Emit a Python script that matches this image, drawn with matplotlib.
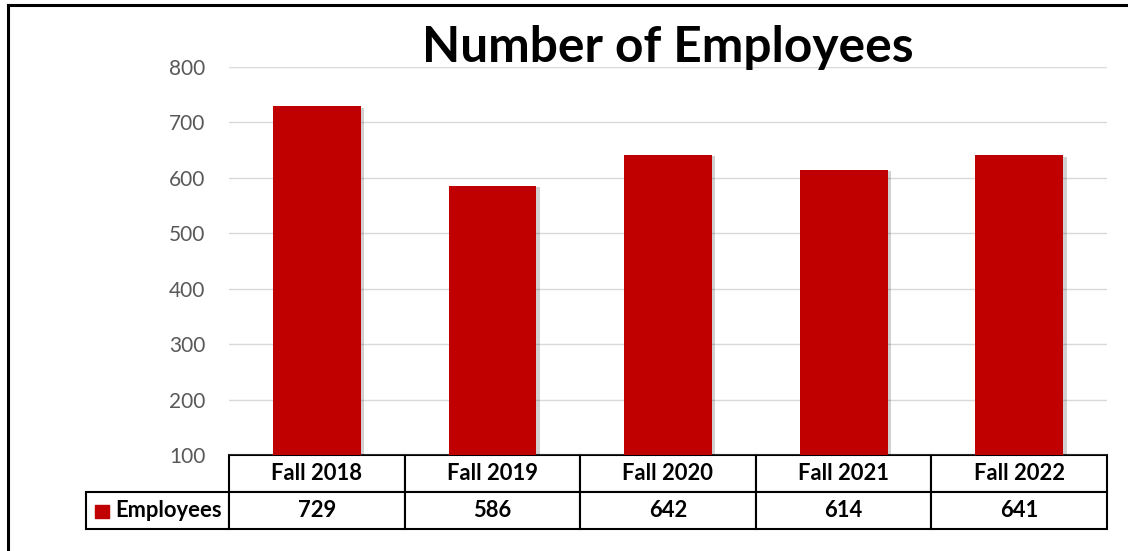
import matplotlib.pyplot as plt
from matplotlib.lines import Line2D
from matplotlib.patches import Rectangle
from matplotlib.table import Table
import matplotlib.patheffects as pe

# data
categories = ['Fall 2018', 'Fall 2019', 'Fall 2020', 'Fall 2021', 'Fall 2022']
employees = [729, 586, 642, 614, 641]
series_name = 'Employees'

bar_color = '#C00000'
font = 'Lato'

fig = plt.figure(figsize=(11.28, 5.51), dpi=100)
ax = fig.add_axes([229 / 1128, 1 - 455 / 551, 878 / 1128, 388 / 551])

x = list(range(len(categories)))
bars = ax.bar(x, employees, width=0.5, color=bar_color, zorder=3)
for b in bars:
    b.set_path_effects([pe.SimplePatchShadow(offset=(2.5, -1), shadow_rgbFace='#000000', alpha=0.18),
                        pe.Normal()])

ax.set_xlim(-0.5, len(categories) - 0.5)
ax.set_ylim(100, 800)
ax.set_yticks(range(100, 801, 100))
ax.set_xticks([])
ax.grid(axis='y', color='#D9D9D9', linewidth=1.0, zorder=0)
for s in ax.spines.values():
    s.set_visible(False)
ax.tick_params(axis='y', length=0, pad=17, labelsize=15, labelcolor='#595959')
for lbl in ax.get_yticklabels():
    lbl.set_fontfamily(font)

# data table below the bars (bbox covers the data grid, row label sits left of it)
lw_frac = 143 / 878
col_w = 1 / len(categories)
tbl = Table(ax, bbox=[0, -74 / 388, 1, 74 / 388])
for j, cat in enumerate(categories):
    tbl.add_cell(0, j, width=col_w, height=0.5, text=cat, loc='center')
    tbl.add_cell(1, j, width=col_w, height=0.5, text=str(employees[j]), loc='center')
tbl.add_cell(1, -1, width=lw_frac, height=0.5, text=series_name, loc='right')
tbl.auto_set_font_size(False)
tbl.set_fontsize(15.8)
for (r, c), cell in tbl.get_celld().items():
    cell.set_edgecolor('black')
    cell.set_linewidth(1.5)
    cell.get_text().set_fontweight('bold')
    cell.get_text().set_fontfamily(font)
    if c == -1:
        cell.PAD = 0.05
ax.add_table(tbl)

# legend key in the row label
ax.add_patch(Rectangle((-134 / 878, -63 / 388), 14 / 878, 13 / 388,
                       transform=ax.transAxes, color=bar_color, clip_on=False))

fig.text(ax.get_position().x0 + ax.get_position().width / 2, 1 - 62 / 551,
         'Number of Employees', ha='center', va='baseline',
         fontsize=35.7, fontweight='bold', fontfamily=font)

# outer frame (top and left edges)
fig.add_artist(Line2D([8 / 1128, 1], [1 - 5 / 551, 1 - 5 / 551], color='black', linewidth=2.2))
fig.add_artist(Line2D([8 / 1128, 8 / 1128], [0, 1 - 5 / 551], color='black', linewidth=2.2))

fig.savefig('out.png', dpi=100)
